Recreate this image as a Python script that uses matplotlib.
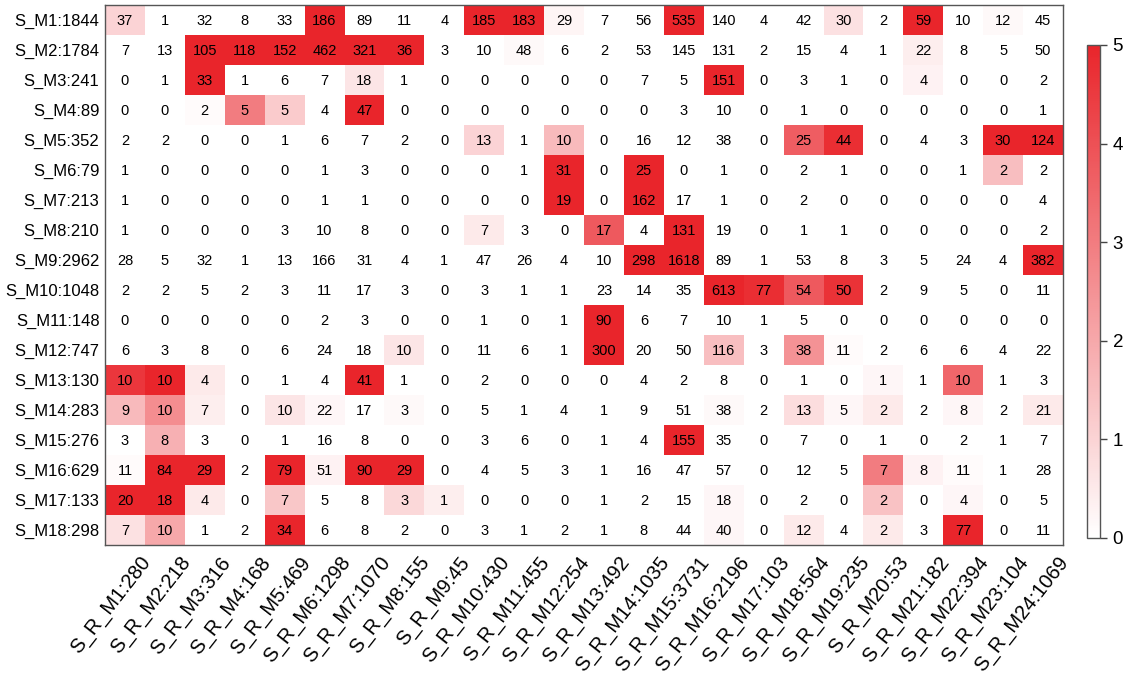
import numpy as np
import matplotlib
matplotlib.use("Agg")
import matplotlib.pyplot as plt
import matplotlib.transforms as mtransforms
from matplotlib.colors import LinearSegmentedColormap

plt.rcParams['font.family'] = ['Liberation Sans', 'DejaVu Sans']

row_labels = ["S_M1:1844", "S_M2:1784", "S_M3:241", "S_M4:89", "S_M5:352",
              "S_M6:79", "S_M7:213", "S_M8:210", "S_M9:2962", "S_M10:1048",
              "S_M11:148", "S_M12:747", "S_M13:130", "S_M14:283", "S_M15:276",
              "S_M16:629", "S_M17:133", "S_M18:298"]

col_labels = ["S_R_M1:280", "S_R_M2:218", "S_R_M3:316", "S_R_M4:168", "S_R_M5:469",
              "S_R_M6:1298", "S_R_M7:1070", "S_R_M8:155", "S_R_M9:45", "S_R_M10:430",
              "S_R_M11:455", "S_R_M12:254", "S_R_M13:492", "S_R_M14:1035", "S_R_M15:3731",
              "S_R_M16:2196", "S_R_M17:103", "S_R_M18:564", "S_R_M19:235", "S_R_M20:53",
              "S_R_M21:182", "S_R_M22:394", "S_R_M23:104", "S_R_M24:1069"]

# overlap counts shown in each cell
counts = [
    [37, 1, 32, 8, 33, 186, 89, 11, 4, 185, 183, 29, 7, 56, 535, 140, 4, 42, 30, 2, 59, 10, 12, 45],
    [7, 13, 105, 118, 152, 462, 321, 36, 3, 10, 48, 6, 2, 53, 145, 131, 2, 15, 4, 1, 22, 8, 5, 50],
    [0, 1, 33, 1, 6, 7, 18, 1, 0, 0, 0, 0, 0, 7, 5, 151, 0, 3, 1, 0, 4, 0, 0, 2],
    [0, 0, 2, 5, 5, 4, 47, 0, 0, 0, 0, 0, 0, 0, 3, 10, 0, 1, 0, 0, 0, 0, 0, 1],
    [2, 2, 0, 0, 1, 6, 7, 2, 0, 13, 1, 10, 0, 16, 12, 38, 0, 25, 44, 0, 4, 3, 30, 124],
    [1, 0, 0, 0, 0, 1, 3, 0, 0, 0, 1, 31, 0, 25, 0, 1, 0, 2, 1, 0, 0, 1, 2, 2],
    [1, 0, 0, 0, 0, 1, 1, 0, 0, 0, 0, 19, 0, 162, 17, 1, 0, 2, 0, 0, 0, 0, 0, 4],
    [1, 0, 0, 0, 3, 10, 8, 0, 0, 7, 3, 0, 17, 4, 131, 19, 0, 1, 1, 0, 0, 0, 0, 2],
    [28, 5, 32, 1, 13, 166, 31, 4, 1, 47, 26, 4, 10, 298, 1618, 89, 1, 53, 8, 3, 5, 24, 4, 382],
    [2, 2, 5, 2, 3, 11, 17, 3, 0, 3, 1, 1, 23, 14, 35, 613, 77, 54, 50, 2, 9, 5, 0, 11],
    [0, 0, 0, 0, 0, 2, 3, 0, 0, 1, 0, 1, 90, 6, 7, 10, 1, 5, 0, 0, 0, 0, 0, 0],
    [6, 3, 8, 0, 6, 24, 18, 10, 0, 11, 6, 1, 300, 20, 50, 116, 3, 38, 11, 2, 6, 6, 4, 22],
    [10, 10, 4, 0, 1, 4, 41, 1, 0, 2, 0, 0, 0, 4, 2, 8, 0, 1, 0, 1, 1, 10, 1, 3],
    [9, 10, 7, 0, 10, 22, 17, 3, 0, 5, 1, 4, 1, 9, 51, 38, 2, 13, 5, 2, 2, 8, 2, 21],
    [3, 8, 3, 0, 1, 16, 8, 0, 0, 3, 6, 0, 1, 4, 155, 35, 0, 7, 0, 1, 0, 2, 1, 7],
    [11, 84, 29, 2, 79, 51, 90, 29, 0, 4, 5, 3, 1, 16, 47, 57, 0, 12, 5, 7, 8, 11, 1, 28],
    [20, 18, 4, 0, 7, 5, 8, 3, 1, 0, 0, 0, 1, 2, 15, 18, 0, 2, 0, 2, 0, 4, 0, 5],
    [7, 10, 1, 2, 34, 6, 8, 2, 0, 3, 1, 2, 1, 8, 44, 40, 0, 12, 4, 2, 3, 77, 0, 11],
]

# enrichment score per cell (-log10 p, capped at 5)
scores = [
    [1.0, 0, 0, 0, 0, 5, 0, 0, 0, 5, 5, 0.25, 0, 0, 5, 0, 0, 0, 0.7, 0, 5, 0, 0.15, 0],
    [0, 0, 5, 5, 5, 5, 5, 5, 0, 0, 0.15, 0, 0, 0, 0, 0, 0, 0, 0, 0, 0.4, 0, 0, 0],
    [0, 0, 5, 0, 0, 0, 0.6, 0, 0, 0, 0, 0, 0, 0, 0, 5, 0, 0, 0, 0, 0.3, 0, 0, 0],
    [0, 0, 0.1, 3.0, 1.2, 0, 5, 0, 0, 0, 0, 0, 0, 0, 0, 0, 0, 0, 0, 0, 0, 0, 0, 0],
    [0, 0, 0, 0, 0, 0, 0, 0, 0, 1.0, 0, 1.6, 0, 0, 0, 0, 0, 3.7, 4.8, 0, 0, 0, 5, 5],
    [0, 0, 0, 0, 0, 0, 0, 0, 0, 0, 0, 5, 0, 5, 0, 0, 0, 0, 0, 0, 0, 0, 1.5, 0],
    [0, 0, 0, 0, 0, 0, 0, 0, 0, 0, 0, 5, 0, 5, 0, 0, 0, 0, 0, 0, 0, 0, 0, 0],
    [0, 0, 0, 0, 0, 0, 0, 0, 0, 0.5, 0, 0, 3.8, 0, 5, 0, 0, 0, 0, 0, 0, 0, 0, 0],
    [0, 0, 0, 0, 0, 0, 0, 0, 0, 0, 0, 0, 0, 5, 5, 0, 0, 0, 0, 0, 0, 0, 0, 5],
    [0, 0, 0, 0, 0, 0, 0, 0, 0, 0, 0, 0, 0, 0, 0, 5, 4.8, 3.8, 4.7, 0, 0, 0, 0, 0],
    [0, 0, 0, 0, 0, 0, 0, 0, 0, 0, 0, 0, 5, 0, 0, 0, 0, 0, 0, 0, 0, 0, 0, 0],
    [0, 0, 0, 0, 0, 0, 0, 0.6, 0, 0, 0, 0, 5, 0, 0, 1.5, 0, 2.5, 0.1, 0, 0, 0, 0, 0],
    [4.6, 5, 0.5, 0, 0, 0, 5, 0, 0, 0, 0, 0, 0, 0, 0, 0, 0, 0, 0, 0.2, 0, 3.5, 0, 0],
    [1.6, 2.6, 0.4, 0, 0.6, 0.2, 0, 0.15, 0, 0, 0, 0, 0, 0, 0, 0.15, 0, 0.8, 0.2, 0.5, 0, 0.2, 0, 0.5],
    [0, 1.8, 0, 0, 0, 0, 0, 0, 0, 0, 0, 0, 0, 0, 5, 0, 0, 0, 0, 0, 0, 0, 0, 0],
    [0.1, 5, 5, 0, 5, 0.3, 5, 5, 0, 0, 0, 0, 0, 0, 0, 0, 0, 0, 0, 3.0, 0.3, 0.1, 0, 0],
    [5, 5, 0.5, 0, 1.3, 0, 0, 0.9, 0.4, 0, 0, 0, 0, 0, 0, 0.2, 0, 0, 0, 1.4, 0, 0.2, 0, 0],
    [0.7, 2.0, 0, 0, 5, 0, 0, 0, 0, 0, 0, 0, 0, 0, 0, 0.2, 0, 0.5, 0, 0.5, 0, 5, 0, 0],
]

cmap = LinearSegmentedColormap.from_list("wr", ["#FFFFFF", "#E9252B"])

fig = plt.figure(figsize=(11.36, 6.76), dpi=100)
ax = fig.add_axes([105 / 1136, 1 - 545 / 676, (1063 - 105) / 1136, 540 / 676])

data = np.array(scores, dtype=float)
nrow, ncol = data.shape
mesh = ax.pcolormesh(np.arange(ncol + 1), np.arange(nrow + 1), data,
                     cmap=cmap, vmin=0, vmax=5)
ax.set_xlim(0, ncol)
ax.set_ylim(nrow, 0)

for i in range(nrow):
    for j in range(ncol):
        ax.text(j + 0.5, i + 0.53, str(counts[i][j]), ha="center", va="center",
                fontsize=10.5, color="black")

ax.set_yticks(np.arange(nrow) + 0.5)
ax.set_yticklabels(row_labels, fontsize=12)
ax.set_xticks(np.arange(ncol) + 0.5)
ax.set_xticklabels([])
ax.tick_params(length=0, pad=4)

# rotated column labels, right end placed just below/right of each column
shift = mtransforms.ScaledTranslation(22 / 100, -14 / 100, fig.dpi_scale_trans)
for j, lab in enumerate(col_labels):
    ax.text(j + 0.5, nrow, lab, rotation=52, ha="right", va="center",
            rotation_mode="anchor", fontsize=14.5, clip_on=False,
            transform=ax.transData + shift)

for sp in ax.spines.values():
    sp.set_color("#555555")
    sp.set_linewidth(1.0)

cax = fig.add_axes([1087 / 1136, 1 - 538 / 676, 13 / 1136, 493 / 676])
cb = fig.colorbar(mesh, cax=cax, ticks=[0, 1, 2, 3, 4, 5])
cb.outline.set_edgecolor("#555555")
cb.outline.set_linewidth(1.0)
cax.tick_params(labelsize=13.5, length=5, width=1, color="#444444", pad=4)

fig.savefig("out.png", dpi=100, facecolor="white")
